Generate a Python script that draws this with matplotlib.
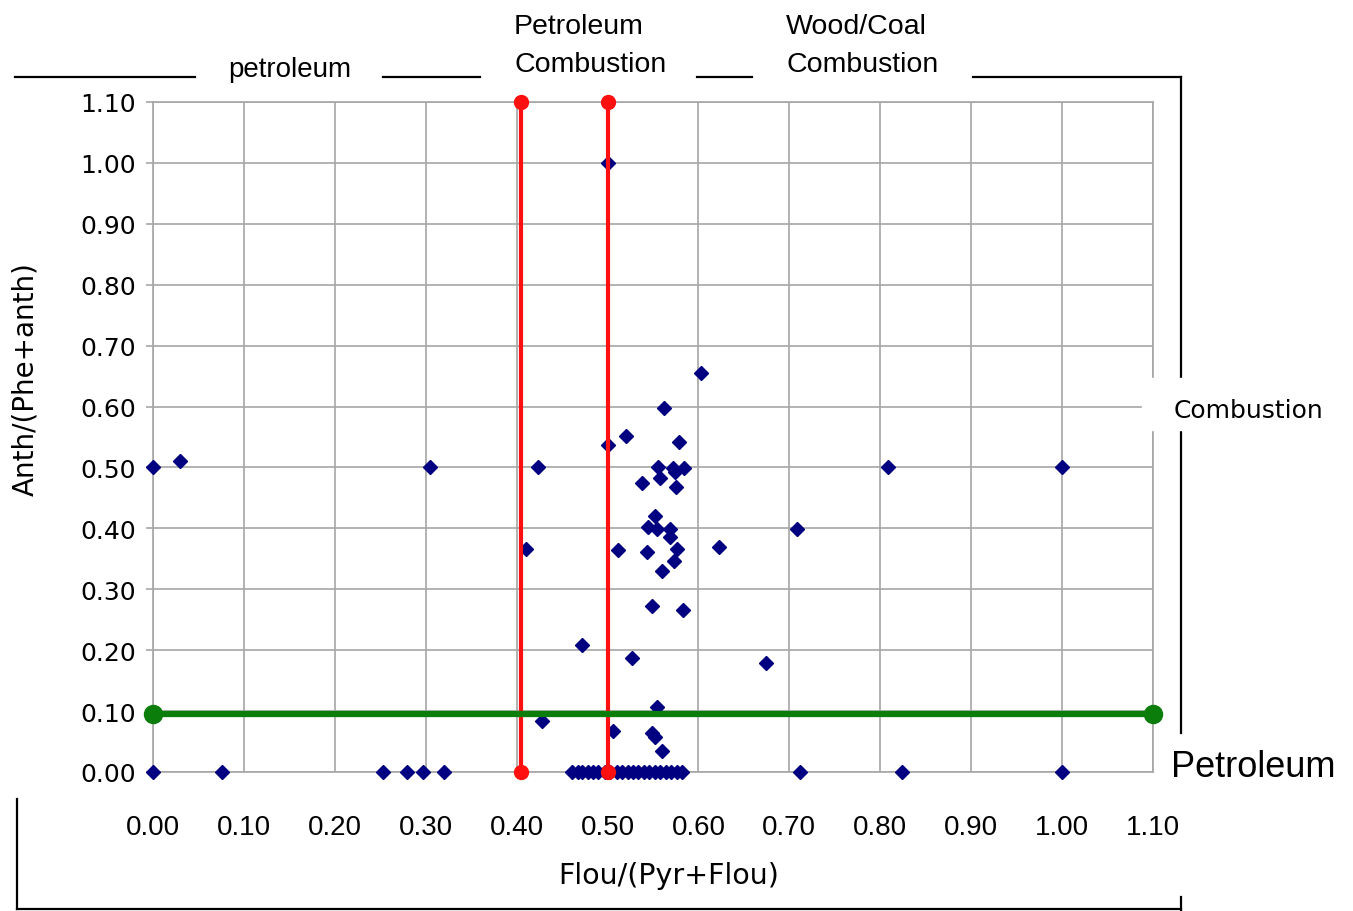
import matplotlib
matplotlib.use('Agg')
import matplotlib.pyplot as plt
from matplotlib.lines import Line2D
from matplotlib.patches import Rectangle
from matplotlib.ticker import FormatStrFormatter

# данные
flou_top = [0.000, 0.030, 0.305, 0.424, 0.500, 0.501, 0.520, 0.603, 0.562, 0.579,
            0.556, 0.572, 0.584, 0.558, 0.574, 0.538, 0.575, 0.552, 0.545, 0.554,
            0.569, 0.569, 0.410, 0.512, 0.543, 0.576, 0.573, 0.560, 0.623, 0.708,
            0.809, 1.000, 0.674, 0.549, 0.583, 0.472, 0.527, 0.554, 0.428, 0.506,
            0.549, 0.552, 0.560]
anth_top = [0.500, 0.510, 0.500, 0.500, 1.000, 0.537, 0.551, 0.655, 0.597, 0.542,
            0.501, 0.499, 0.499, 0.483, 0.493, 0.475, 0.468, 0.420, 0.402, 0.399,
            0.399, 0.386, 0.366, 0.365, 0.361, 0.366, 0.346, 0.330, 0.369, 0.399,
            0.500, 0.500, 0.179, 0.273, 0.266, 0.209, 0.187, 0.107, 0.084, 0.067,
            0.064, 0.058, 0.035]

# точки на нуле
flou_zero = [0.000, 0.076, 0.253, 0.279, 0.297, 0.320,
             0.461, 0.467, 0.472, 0.478, 0.484, 0.490, 0.497, 0.503, 0.510, 0.516,
             0.522, 0.528, 0.534, 0.540, 0.546, 0.552, 0.558, 0.564, 0.570, 0.576,
             0.582, 0.712, 0.824, 1.000]
anth_zero = [0.0] * len(flou_zero)

red_x = [0.405, 0.50]
red_y = [0.00, 1.10]
green_y = 0.095
green_x = [0.00, 1.10]

ticks = [0.0, 0.1, 0.2, 0.3, 0.4, 0.5, 0.6, 0.7, 0.8, 0.9, 1.0, 1.1]

W, H = 1353, 912


def fx(px):
    return px / W


def fy(py):
    return 1 - py / H


lib = ['Liberation Sans', 'DejaVu Sans']

fig = plt.figure(figsize=(W / 100, H / 100), dpi=100)
ax = fig.add_axes([fx(153), fy(773), fx(1153) - fx(153), fy(103) - fy(773)])

gray = '#a6a6a6'
ax.set_xlim(0, 1.10)
ax.set_ylim(0, 1.10)
ax.set_xticks(ticks)
ax.set_yticks(ticks)
ax.xaxis.set_major_formatter(FormatStrFormatter('%.2f'))
ax.yaxis.set_major_formatter(FormatStrFormatter('%.2f'))
ax.grid(True, color=gray, lw=1.2)
ax.set_axisbelow(True)
for s in ax.spines.values():
    s.set_color(gray)
    s.set_linewidth(1.2)
ax.tick_params(axis='x', length=0, pad=30)
ax.tick_params(axis='y', length=5, width=1.2, color=gray, pad=7, labelsize=18)
for lb in ax.get_xticklabels():
    lb.set_family(lib)
    lb.set_fontsize(20)

ax.plot(flou_top + flou_zero, anth_top + anth_zero, 'D', color='#000080',
        markersize=7.5, clip_on=False, zorder=3)

for x in red_x:
    ax.plot([x, x], red_y, '-o', color='#ff1010', lw=3, markersize=10,
            clip_on=False, zorder=4)
ax.plot(green_x, [green_y, green_y], '-o', color='#0a7d0a', lw=4.5,
        markersize=13, clip_on=False, zorder=4)

fig.text(fx(25), fy(379), 'Anth/(Phe+anth)', rotation=90, fontsize=20,
         ha='center', va='center')
fig.text(fx(669), fy(876), 'Flou/(Pyr+Flou)', fontsize=20.5, ha='center', va='center')

# скобки вокруг графика
segs = [
    ([15, 195], [78, 78]),
    ([383, 480], [78, 78]),
    ([697, 752], [78, 78]),
    ([973, 1181], [78, 78]),
    ([1181, 1181], [78, 379]),
    ([1181, 1181], [431, 734]),
    ([17, 17], [800, 910]),
    ([17, 1181], [910, 910]),
    ([1181, 1181], [898, 912]),
]
for xs, ys in segs:
    fig.add_artist(Line2D([fx(v) for v in xs], [fy(v) for v in ys],
                          transform=fig.transFigure, color='black', lw=1.6))

fig.text(fx(290), fy(70), 'petroleum', fontsize=20, ha='center', va='center',
         family=lib)
fig.text(fx(514), fy(46), 'Petroleum\nCombustion', fontsize=20.5, ha='left',
         va='center', linespacing=1.6, family=lib)
fig.text(fx(786), fy(46), 'Wood/Coal\nCombustion', fontsize=20.5, ha='left',
         va='center', linespacing=1.6, family=lib)

fig.add_artist(Rectangle((fx(1142), fy(431)), fx(1353) - fx(1142), fy(379) - fy(431),
                         transform=fig.transFigure, color='white', zorder=2.5))
fig.text(fx(1174), fy(411), 'Combustion', fontsize=18, ha='left', va='center')
fig.text(fx(1171), fy(768), 'Petroleum', fontsize=26, ha='left', va='center',
         family=lib)

fig.savefig('out.png', dpi=100)
